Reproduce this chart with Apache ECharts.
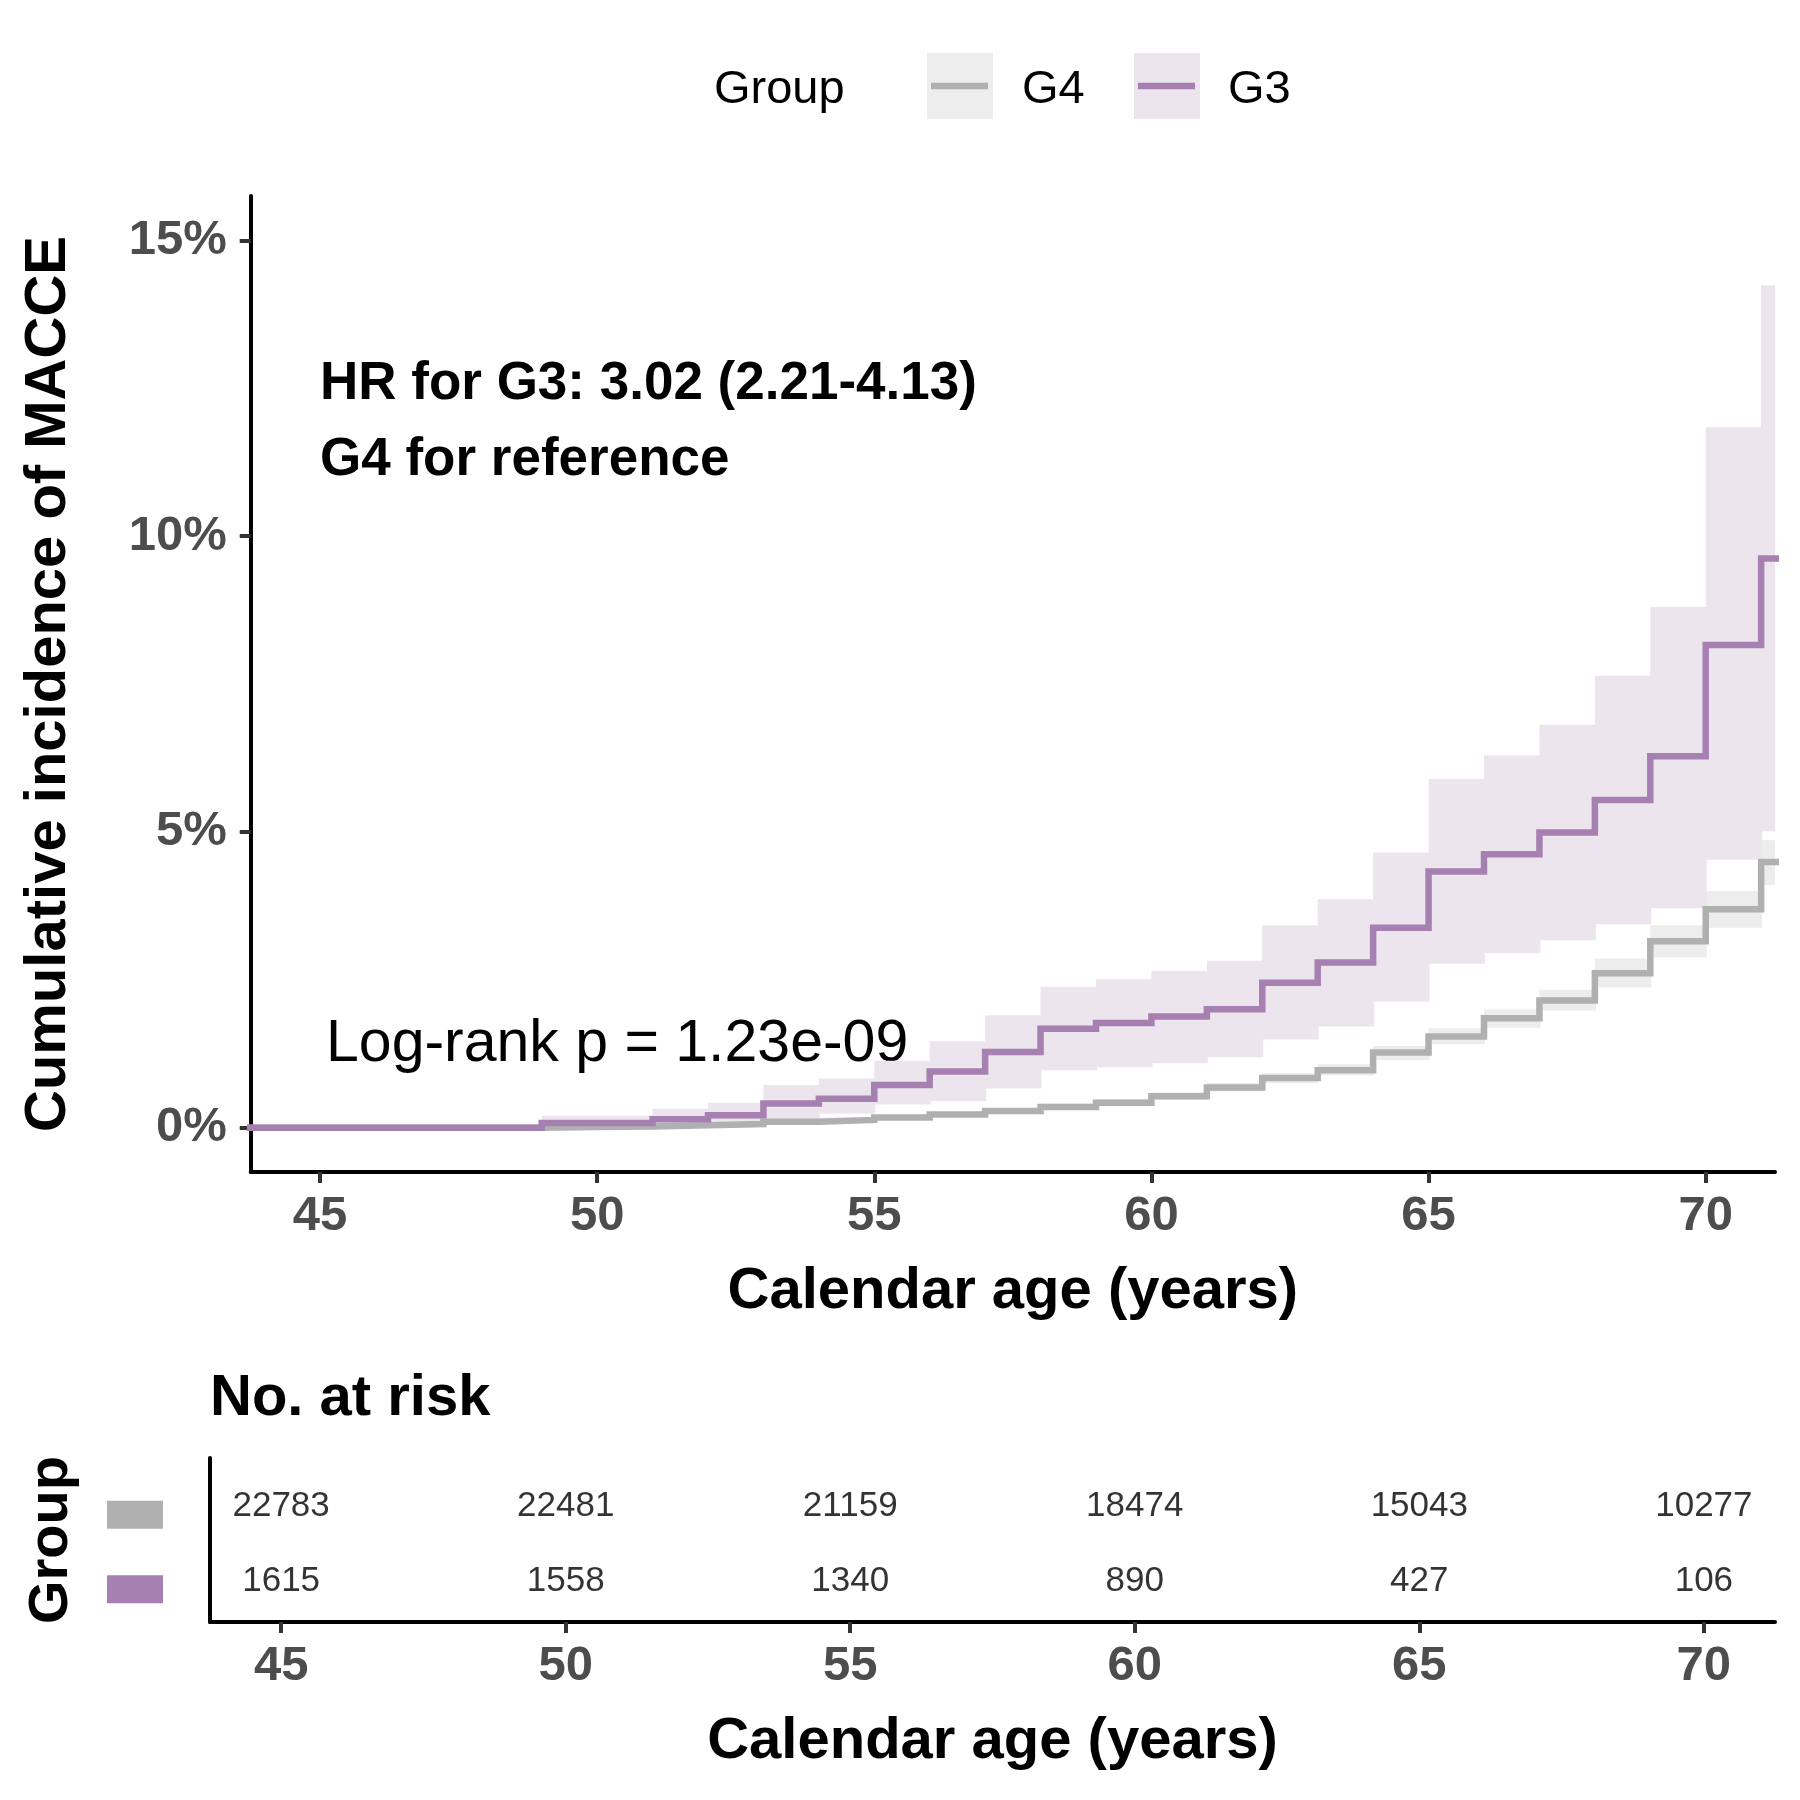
<!DOCTYPE html>
<html><head><meta charset="utf-8">
<script src="https://cdn.jsdelivr.net/npm/echarts@6/dist/echarts.min.js"></script>
<style>html,body{margin:0;padding:0;background:#fff}#c{width:1800px;height:1800px}</style>
</head><body><div id="c"></div>
<script>
// Step change times (age, years); the last value is carried to the panel edge
const times = [40, 49, 50, 51, 52, 53, 54, 55, 56, 57, 58, 59, 60, 61, 62, 63, 64, 65, 66, 67, 68, 69, 70, 71, 72];
// Cumulative incidence (%) — G4
const g4Est = [0, 0.01, 0.02, 0.04, 0.06, 0.10, 0.13, 0.17, 0.22, 0.28, 0.35, 0.42, 0.53, 0.68, 0.84, 0.97, 1.27, 1.54, 1.85, 2.15, 2.61, 3.15, 3.69, 4.49, 4.49];
const g4Lo  = [0, 0.00, 0.01, 0.02, 0.04, 0.07, 0.10, 0.14, 0.18, 0.23, 0.30, 0.36, 0.47, 0.61, 0.75, 0.88, 1.14, 1.41, 1.69, 1.98, 2.37, 2.88, 3.38, 4.10, 4.10];
const g4Hi  = [0, 0.02, 0.03, 0.06, 0.09, 0.13, 0.17, 0.21, 0.27, 0.33, 0.41, 0.48, 0.60, 0.76, 0.92, 1.07, 1.38, 1.68, 2.00, 2.33, 2.86, 3.42, 4.00, 4.86, 4.86];
// Cumulative incidence (%) — G3
const g3Est = [0, 0.08, 0.08, 0.14, 0.21, 0.41, 0.49, 0.72, 0.95, 1.28, 1.67, 1.77, 1.88, 2.00, 2.45, 2.79, 3.38, 4.33, 4.62, 4.99, 5.54, 6.28, 8.16, 9.62, 9.62];
const g3Lo  = [0, 0.00, 0.00, 0.01, 0.03, 0.12, 0.24, 0.39, 0.45, 0.66, 0.97, 1.02, 1.09, 1.19, 1.49, 1.71, 2.13, 2.77, 2.95, 3.17, 3.44, 3.71, 4.53, 5.01, 5.01];
const g3Hi  = [0, 0.20, 0.20, 0.32, 0.42, 0.72, 0.83, 1.13, 1.46, 1.90, 2.38, 2.51, 2.65, 2.82, 3.42, 3.86, 4.65, 5.90, 6.29, 6.81, 7.64, 8.80, 11.84, 14.24, 14.24];
// Number at risk table
const riskAges = [45, 50, 55, 60, 65, 70];
const riskG4 = [22783, 22481, 21159, 18474, 15043, 10277];
const riskG3 = [1615, 1558, 1340, 890, 427, 106];
// Axis ticks
const xTicks = [45, 50, 55, 60, 65, 70];
const yTicks = [0, 5, 10, 15];

const C4 = '#B0B0B0', C3 = '#A680B1', B4 = '#EDEDED', B3 = '#ECE5EE';
const FONT = '"Liberation Sans", Arial, Helvetica, sans-serif';
const pts = arr => times.map((t, i) => [t, arr[i]]);
const intervals = (lo, hi) => times.slice(0, -1).map((t, i) => [t, times[i + 1], lo[i], hi[i]]);

const chart = echarts.init(document.getElementById('c'), null, {renderer: 'canvas'});

const axisLineStyle = {color: '#000', width: 4};
const xAxisCommon = {
  type: 'value', min: 43.75, max: 71.25,
  axisLine: {show: true, lineStyle: axisLineStyle, onZero: false},
  axisTick: {show: true, customValues: xTicks, length: 11, lineStyle: {color: '#333', width: 4}},
  axisLabel: {customValues: xTicks, fontSize: 49, fontWeight: 'bold', color: '#4D4D4D', fontFamily: FONT, margin: 20},
  splitLine: {show: false},
  name: 'Calendar age (years)', nameLocation: 'middle', nameGap: 91,
  nameTextStyle: {fontSize: 58, fontWeight: 'bold', color: '#000', fontFamily: FONT}
};

function stepLine(name, data, color, z) {
  return {name, type: 'line', data, step: 'end', xAxisIndex: 0, yAxisIndex: 0, showSymbol: false, symbol: 'none',
    lineStyle: {color, width: 6.5, cap: 'butt', join: 'miter'}, itemStyle: {color}, z, silent: true, clip: true, animation: false};
}
function band(name, lo, hi, color, z) {
  return {
    name, type: 'custom', xAxisIndex: 0, yAxisIndex: 0, z, silent: true, animation: false, clip: true,
    data: intervals(lo, hi),
    renderItem: function (params, api) {
      const p0 = api.coord([api.value(0), api.value(3)]);
      const p1 = api.coord([api.value(1), api.value(2)]);
      const cs = params.coordSys;
      const r = echarts.graphic.clipRectByRect(
        {x: p0[0], y: p0[1], width: p1[0] - p0[0] + 1, height: Math.max(p1[1] - p0[1], 0)},
        {x: cs.x, y: cs.y, width: cs.width, height: cs.height});
      if (!r) return null;
      return {type: 'rect', shape: r, style: {fill: color}};
    }
  };
}
function riskSeries(vals, row) {
  return {type: 'scatter', xAxisIndex: 1, yAxisIndex: 1, symbolSize: 0.1, itemStyle: {color: 'rgba(0,0,0,0)'},
    data: riskAges.map((a, i) => [a, row, vals[i]]), silent: true, animation: false,
    label: {show: true, position: 'inside', offset: [0, 4], formatter: p => String(p.value[2]), fontSize: 35, color: '#000', fontFamily: FONT}};
}

const option = {
  backgroundColor: '#fff',
  animation: false,
  textStyle: {fontFamily: FONT},
  grid: [
    {left: 250.7, top: 196, right: 25, bottom: 628, outerBoundsMode: 'none', containLabel: false},
    {left: 210, top: 1458, right: 25, bottom: 178, outerBoundsMode: 'none', containLabel: false}
  ],
  xAxis: [
    Object.assign({gridIndex: 0}, xAxisCommon),
    Object.assign({gridIndex: 1}, xAxisCommon)
  ],
  yAxis: [
    {gridIndex: 0, type: 'value', min: -0.75, max: 15.75,
     axisLine: {show: true, lineStyle: axisLineStyle},
     axisTick: {show: true, customValues: yTicks, length: 11, lineStyle: {color: '#333', width: 4}},
     axisLabel: {customValues: yTicks, formatter: v => v + '%', fontSize: 49, fontWeight: 'bold', color: '#4D4D4D', fontFamily: FONT, margin: 24, padding: [6, 0, 0, 0]},
     splitLine: {show: false},
     name: 'Cumulative incidence of MACCE', nameLocation: 'middle', nameRotate: 90, nameGap: 173,
     nameTextStyle: {fontSize: 58, fontWeight: 'bold', color: '#000', fontFamily: FONT}},
    {gridIndex: 1, type: 'value', min: 0.4, max: 2.6,
     axisLine: {show: true, lineStyle: axisLineStyle},
     axisTick: {show: false},
     axisLabel: {customValues: [1, 2], margin: 47, padding: [24, 0, 0, 0],
       formatter: v => (v === 2 ? '{g4|}' : '{g3|}'),
       rich: {g4: {width: 56, height: 28, backgroundColor: C4}, g3: {width: 56, height: 28, backgroundColor: C3}}},
     splitLine: {show: false},
     name: 'Group', nameLocation: 'middle', nameRotate: 90, nameGap: 130,
     nameTextStyle: {fontSize: 56, fontWeight: 'bold', color: '#000', fontFamily: FONT}}
  ],
  series: [
    band('G4 CI', g4Lo, g4Hi, B4, 1),
    band('G3 CI', g3Lo, g3Hi, B3, 2),
    stepLine('G4', pts(g4Est), C4, 3),
    stepLine('G3', pts(g3Est), C3, 4),
    riskSeries(riskG4, 2),
    riskSeries(riskG3, 1)
  ],
  graphic: [
    // legend
    {type: 'text', left: 714, top: 67, style: {text: 'Group', fontSize: 47, fontFamily: FONT, fill: '#000'}},
    {type: 'rect', shape: {x: 927, y: 53, width: 66, height: 66}, style: {fill: B4}},
    {type: 'line', shape: {x1: 931, y1: 86, x2: 988, y2: 86}, style: {stroke: C4, lineWidth: 6.5}},
    {type: 'text', left: 1022, top: 67, style: {text: 'G4', fontSize: 47, fontFamily: FONT, fill: '#000'}},
    {type: 'rect', shape: {x: 1134, y: 53, width: 66, height: 66}, style: {fill: B3}},
    {type: 'line', shape: {x1: 1138, y1: 86, x2: 1195, y2: 86}, style: {stroke: C3, lineWidth: 6.5}},
    {type: 'text', left: 1228, top: 67, style: {text: 'G3', fontSize: 47, fontFamily: FONT, fill: '#000'}},
    // annotations
    {type: 'text', x: 320, y: 384, style: {text: 'HR for G3: 3.02 (2.21-4.13)', fontSize: 53, fontWeight: 'bold', fontFamily: FONT, fill: '#000', verticalAlign: 'middle', align: 'left'}},
    {type: 'text', x: 320, y: 460, style: {text: 'G4 for reference', fontSize: 53, fontWeight: 'bold', fontFamily: FONT, fill: '#000', verticalAlign: 'middle', align: 'left'}},
    {type: 'text', x: 326, y: 1045, style: {text: 'Log-rank p = 1.23e-09', fontSize: 59, fontFamily: FONT, fill: '#000', verticalAlign: 'middle', align: 'left'}},
    {type: 'text', x: 210, y: 1399, style: {text: 'No. at risk', fontSize: 58, fontWeight: 'bold', fontFamily: FONT, fill: '#000', verticalAlign: 'middle', align: 'left'}}
  ]
};
chart.setOption(option);
</script></body></html>
